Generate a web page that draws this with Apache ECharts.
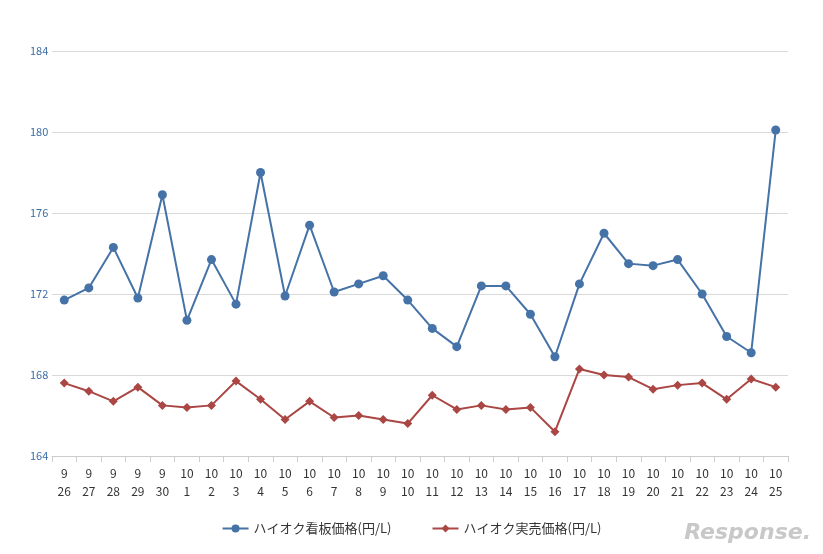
<!DOCTYPE html>
<html><head><meta charset="utf-8">
<script src="https://cdn.jsdelivr.net/npm/echarts@6/dist/echarts.min.js"></script>
<style>html,body{margin:0;padding:0;background:#fff}#c{width:823px;height:554px}</style>
</head><body><div id="c"></div>
<script>
const categories = ['9\n26','9\n27','9\n28','9\n29','9\n30','10\n1','10\n2','10\n3','10\n4','10\n5','10\n6','10\n7','10\n8','10\n9','10\n10','10\n11','10\n12','10\n13','10\n14','10\n15','10\n16','10\n17','10\n18','10\n19','10\n20','10\n21','10\n22','10\n23','10\n24','10\n25'];
const signPrice = [171.7,172.3,174.3,171.8,176.9,170.7,173.7,171.5,178.0,171.9,175.4,172.1,172.5,172.9,171.7,170.3,169.4,172.4,172.4,171.0,168.9,172.5,175.0,173.5,173.4,173.7,172.0,169.9,169.1,180.1];
const actualPrice = [167.6,167.2,166.7,167.4,166.5,166.4,166.5,167.7,166.8,165.8,166.7,165.9,166.0,165.8,165.6,167.0,166.3,166.5,166.3,166.4,165.2,168.3,168.0,167.9,167.3,167.5,167.6,166.8,167.8,167.4];
const seriesNames = ['ハイオク看板価格(円/L)','ハイオク実売価格(円/L)'];
const chart = echarts.init(document.getElementById('c'));
chart.setOption({
  animation:false,
  textStyle:{fontFamily:'"Noto Sans CJK JP", "DejaVu Sans", sans-serif'},
  grid:{left:52,right:35,top:51,bottom:98},
  legend:{bottom:14,left:'center',itemGap:40,textStyle:{fontSize:13,color:'#333'},data:seriesNames,itemWidth:26,itemHeight:10},
  xAxis:{type:'category',data:categories,boundaryGap:true,
    axisLine:{lineStyle:{color:'#ccc'}},axisTick:{show:true,length:6,lineStyle:{color:'#ccc'}},
    axisLabel:{color:'#333',fontSize:12,lineHeight:18,margin:8,interval:0}},
  yAxis:{type:'value',min:164,max:184,interval:4,
    axisLabel:{color:'#3a6ea5',fontSize:11,margin:22,align:'left'},
    splitLine:{lineStyle:{color:'#d9d9d9'}},axisLine:{show:false},axisTick:{show:false}},
  series:[
    {name:seriesNames[0],type:'line',data:signPrice,symbol:'circle',symbolSize:9,
     lineStyle:{color:'#4572a7',width:2},itemStyle:{color:'#4572a7'}},
    {name:seriesNames[1],type:'line',data:actualPrice,symbol:'diamond',symbolSize:9,
     lineStyle:{color:'#aa4643',width:2},itemStyle:{color:'#aa4643'}}
  ],
  graphic:[{type:'text',right:12,bottom:10,style:{text:'Response.',fontSize:22,fontStyle:'italic',fontWeight:'bold',fill:'#c8c8c8',fontFamily:'DejaVu Sans'}}]
});
</script></body></html>
